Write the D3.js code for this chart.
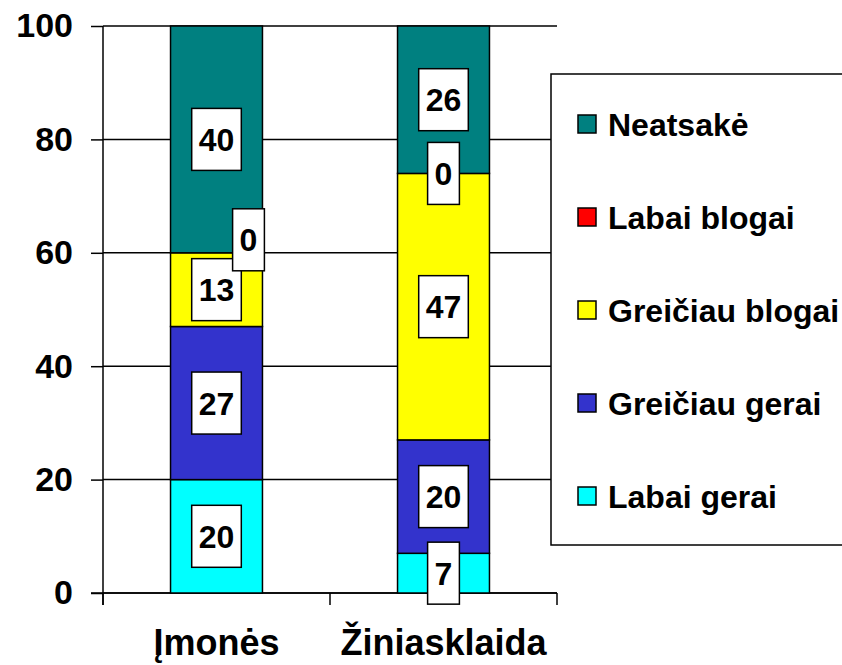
<!DOCTYPE html>
<html>
<head>
<meta charset="utf-8">
<script src="https://cdn.jsdelivr.net/npm/d3@7"></script>
<style>
  body { margin: 0; background: #fff; }
  svg text { font-family: "Liberation Sans", Arial, sans-serif; font-weight: bold; }
</style>
</head>
<body>
<svg id="chart" width="842" height="665"></svg>
<script>
// data
const categories = ['Įmonės', 'Žiniasklaida'];
const seriesNames = ['Labai gerai', 'Greičiau gerai', 'Greičiau blogai', 'Labai blogai', 'Neatsakė'];
const labaiGerai = [20, 7];
const greiciauGerai = [27, 20];
const greiciauBlogai = [13, 47];
const labaiBlogai = [0, 0];
const neatsake = [40, 26];
const colors = ['#00FFFF', '#3333CC', '#FFFF00', '#FF0000', '#008080'];
const yTicks = [0, 20, 40, 60, 80, 100];

const svg = d3.select('#chart');
const margin = { left: 103, right: 557, top: 26, bottom: 593 };

let x = d3.scaleBand().domain(categories).range([margin.left, margin.right]).padding(0);
let y = d3.scaleLinear().domain([0, 100]).range([margin.bottom, margin.top]);
let barW = x.bandwidth() * 0.405;

let rows = categories.map((c, i) => ({
    cat: c,
    'Labai gerai': labaiGerai[i],
    'Greičiau gerai': greiciauGerai[i],
    'Greičiau blogai': greiciauBlogai[i],
    'Labai blogai': labaiBlogai[i],
    'Neatsakė': neatsake[i]
}));
let stacked = d3.stack().keys(seriesNames)(rows);

// gridlines
svg.append('g').selectAll('line').data(yTicks).enter().append('line')
    .attr('x1', margin.left).attr('x2', margin.right)
    .attr('y1', d => y(d)).attr('y2', d => y(d))
    .attr('stroke', '#000').attr('stroke-width', 1.5);

// y axis
let yAxis = svg.append('g')
    .attr('transform', `translate(${margin.left},0)`)
    .call(d3.axisLeft(y).tickValues(yTicks).tickSize(12).tickPadding(18));
yAxis.select('.domain').attr('d', `M0,${margin.top}V${margin.bottom + 12}`).attr('stroke-width', 1.5);
yAxis.selectAll('.tick line').attr('stroke-width', 1.5);
yAxis.selectAll('.tick text').attr('font-size', 34).attr('fill', '#000')
    .attr('font-family', '"Liberation Sans", Arial, sans-serif');

// x axis
let xAxis = svg.append('g').attr('transform', `translate(0,${margin.bottom})`);
xAxis.append('line').attr('x1', margin.left - 12).attr('x2', margin.right)
    .attr('y1', 0).attr('y2', 0).attr('stroke', '#000').attr('stroke-width', 1.5);
let bounds = [margin.left].concat(categories.map(c => x(c) + x.bandwidth()));
xAxis.selectAll('line.tk').data(bounds).enter().append('line').attr('class', 'tk')
    .attr('x1', d => d).attr('x2', d => d).attr('y1', 0).attr('y2', 12)
    .attr('stroke', '#000').attr('stroke-width', 1.5);
xAxis.selectAll('text').data(categories).enter().append('text')
    .attr('x', d => x(d) + x.bandwidth() / 2).attr('y', 62)
    .attr('text-anchor', 'middle').attr('font-size', 36).text(d => d);

// bars
let layers = svg.append('g').selectAll('g').data(stacked).enter().append('g')
    .attr('fill', (d, i) => colors[i]);
layers.selectAll('rect').data(d => d).enter().append('rect')
    .attr('x', d => x(d.data.cat) + (x.bandwidth() - barW) / 2)
    .attr('y', d => y(d[1]))
    .attr('width', barW)
    .attr('height', d => y(d[0]) - y(d[1]))
    .attr('stroke', '#000').attr('stroke-width', 1.5);

// data labels (the overlapping zero label is pushed aside, like Excel does)
const nudge = { 'Labai blogai|Įmonės': [32, -13] };
let labels = [];
stacked.forEach(s => s.forEach(d => {
    let n = nudge[s.key + '|' + d.data.cat] || [0, 0];
    labels.push({
        v: d[1] - d[0],
        cx: x(d.data.cat) + x.bandwidth() / 2 + n[0],
        cy: y((d[0] + d[1]) / 2) + n[1]
    });
}));
let lg = svg.append('g').selectAll('g').data(labels).enter().append('g')
    .attr('transform', d => `translate(${d.cx},${d.cy})`);
lg.append('text').attr('text-anchor', 'middle').attr('dy', '0.36em')
    .attr('font-size', 32).text(d => d.v);
lg.each(function () {
    let g = d3.select(this);
    let w = g.select('text').node().getComputedTextLength() + 14;
    g.insert('rect', 'text').attr('x', -w / 2).attr('y', -31).attr('width', w).attr('height', 62)
        .attr('fill', '#fff').attr('stroke', '#000').attr('stroke-width', 1.5);
});

// legend
let legend = svg.append('g');
legend.append('rect').attr('x', 551).attr('y', 74).attr('width', 320).attr('height', 471)
    .attr('fill', '#fff').attr('stroke', '#000').attr('stroke-width', 1.5);
let legendItems = seriesNames.map((s, i) => ({ name: s, color: colors[i] })).reverse();
let li = legend.selectAll('g').data(legendItems).enter().append('g')
    .attr('transform', (d, i) => `translate(578,${124 + i * 93})`);
li.append('rect').attr('x', 0).attr('y', -9).attr('width', 18).attr('height', 18)
    .attr('fill', d => d.color).attr('stroke', '#000').attr('stroke-width', 1.5);
li.append('text').attr('x', 30).attr('dy', '0.36em').attr('font-size', 32).text(d => d.name);
</script>
</body>
</html>
